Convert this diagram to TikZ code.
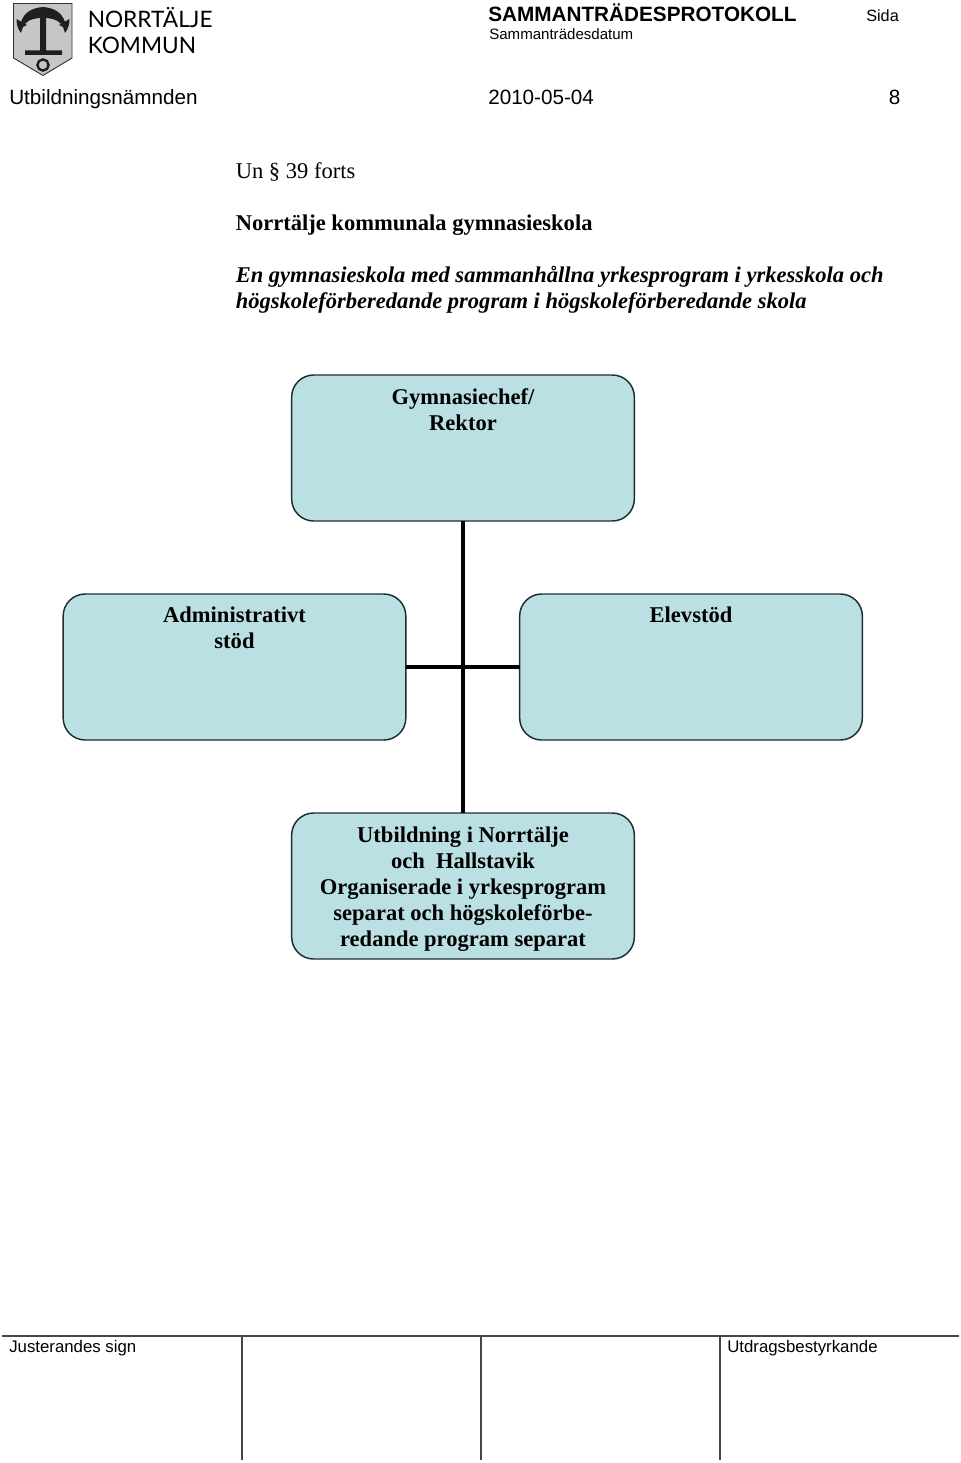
\documentclass[tikz,border=0pt]{standalone}
\usepackage{fontspec}
\setmainfont{Liberation Serif}
\newfontfamily\arialf{Liberation Sans}
\newfontfamily\logof{Lato}
\definecolor{boxfill}{RGB}{186,224,228}
\definecolor{boxline}{RGB}{30,45,50}
\definecolor{shieldgrey}{RGB}{196,198,200}
\definecolor{rulegrey}{RGB}{70,70,70}
\tikzset{
 x=0.75pt,y=-0.75pt,
 orgbox/.style={draw=boxline,fill=boxfill,line width=1.1pt,rounded corners=16.5pt,minimum width=257pt,minimum height=109.5pt,inner sep=0pt,outer sep=0pt},
 link/.style={line width=3pt,black},
 rulel/.style={draw=rulegrey,line width=0.9pt},
 boxtxt/.style={font=\fontsize{16.9pt}{19.5pt}\selectfont\bfseries,align=center,anchor=base,inner sep=0pt},
 body/.style={font=\fontsize{16.9pt}{19.5pt}\selectfont,anchor=base west,inner sep=0pt},
 head/.style={font=\arialf\fontsize{15.5pt}{17pt}\selectfont,anchor=base west,inner sep=0pt},
 small/.style={font=\arialf\fontsize{12.6pt}{14pt}\selectfont,anchor=base west,inner sep=0pt},
 logotxt/.style={font=\logof\fontsize{17pt}{21pt}\selectfont,anchor=base west,inner sep=0pt},
}
\begin{document}
\begin{tikzpicture}
\useasboundingbox (0,0) rectangle (960,1463);
% logo
\draw[fill=shieldgrey,draw=black!80,line width=0.7pt] (13.5,3.5) -- (72,3.5) -- (72,58) -- (43,75.5) -- (13.5,58) -- cycle;
\fill[black!88] (40,16) -- (46,16) -- (46,50.5) -- (62,50.5) -- (62,55) -- (25,55) -- (25,50.5) -- (40,50.5) -- cycle;
\fill[black!88] (43,7) .. controls (31,8) and (24,13) .. (21,22) -- (25,24) .. controls (29,19) and (36,18) .. (43,18) .. controls (50,18) and (57,19) .. (61,24) -- (65,22) .. controls (62,13) and (55,8) .. (43,7) -- cycle;
\fill[black!88] (16.5,19) -- (27,25) -- (23,27) -- (21,33) .. controls (18,29) and (16.5,25) .. (16.5,19) -- cycle;
\fill[black!88] (69.5,19) -- (59,25) -- (63,27) -- (65,33) .. controls (68,29) and (69.5,25) .. (69.5,19) -- cycle;
\draw[black!88,line width=1.8pt] (43,65) circle[radius=5.6];
\node[logotxt] (logoa) at (87.5,28) {NORRTÄLJE};
\node[logotxt] (logob) at (87.5,54) {KOMMUN};
% header
\node[head] (unit) at (9,104) {Utbildningsnämnden};
\node[head] (date) at (488,104) {2010-05-04};
\node[head] (page) at (888.5,104) {8};
\node[head,font=\arialf\bfseries\fontsize{15.55pt}{17pt}\selectfont] (proto) at (488,21.5) {SAMMANTRÄDESPROTOKOLL};
\node[small,font=\arialf\fontsize{12.2pt}{14pt}\selectfont] (sida) at (866,21.5) {Sida};
\node[small,font=\arialf\fontsize{11.3pt}{14pt}\selectfont] (sdat) at (489,40) {Sammanträdesdatum};
% body
\node[body] (t1) at (235.5,178) {Un § 39 forts};
\node[body,font=\fontsize{16.9pt}{19.5pt}\selectfont\bfseries] (t2) at (235.5,230) {Norrtälje kommunala gymnasieskola};
\node[body,font=\fontsize{16.9pt}{19.5pt}\selectfont\bfseries\itshape] (t3) at (235.5,282) {En gymnasieskola med sammanhållna yrkesprogram i yrkesskola och};
\node[body,font=\fontsize{16.9pt}{19.5pt}\selectfont\bfseries\itshape] (t4) at (235.5,308) {högskoleförberedande program i högskoleförberedande skola};
% boxes
\node[orgbox] (rektor) at (463,448) {};
\node[orgbox] (admin) at (234.5,667) {};
\node[orgbox] (elev) at (691,667) {};
\node[orgbox] (utb) at (463,886) {};
% connectors
\draw[link,line width=3.6pt] (rektor.south) -- (utb.north);
\draw[link] (admin.east) -- (elev.west);
% box text
\node[boxtxt] (rt1) at (463,404) {Gymnasiechef/};
\node[boxtxt] (rt2) at (463,430) {Rektor};
\node[boxtxt] (at1) at (234.5,622) {Administrativt};
\node[boxtxt] (at2) at (234.5,648) {stöd};
\node[boxtxt] (et1) at (691,622) {Elevstöd};
\node[boxtxt] (ut1) at (463,842) {Utbildning i Norrtälje};
\node[boxtxt] (ut2) at (463,868) {och\ \ Hallstavik};
\node[boxtxt] (ut3) at (463,894) {Organiserade i yrkesprogram};
\node[boxtxt] (ut4) at (463,920) {separat och högskoleförbe-};
\node[boxtxt] (ut5) at (463,946) {redande program separat};
% footer
\coordinate (fl) at (2,1336);
\coordinate (fr) at (959,1336);
\draw[rulel,line width=1.1pt] (fl) -- (fr);
\coordinate (f1a) at (242,1336); \coordinate (f1b) at (242,1460);
\coordinate (f2a) at (481,1336); \coordinate (f2b) at (481,1460);
\coordinate (f3a) at (720,1336); \coordinate (f3b) at (720,1460);
\draw[rulel] (f1a) -- (f1b);
\draw[rulel] (f2a) -- (f2b);
\draw[rulel] (f3a) -- (f3b);
\node[small] (just) at (9,1352) {Justerandes sign};
\node[small] (utdr) at (727,1352) {Utdragsbestyrkande};
\end{tikzpicture}
\end{document}
